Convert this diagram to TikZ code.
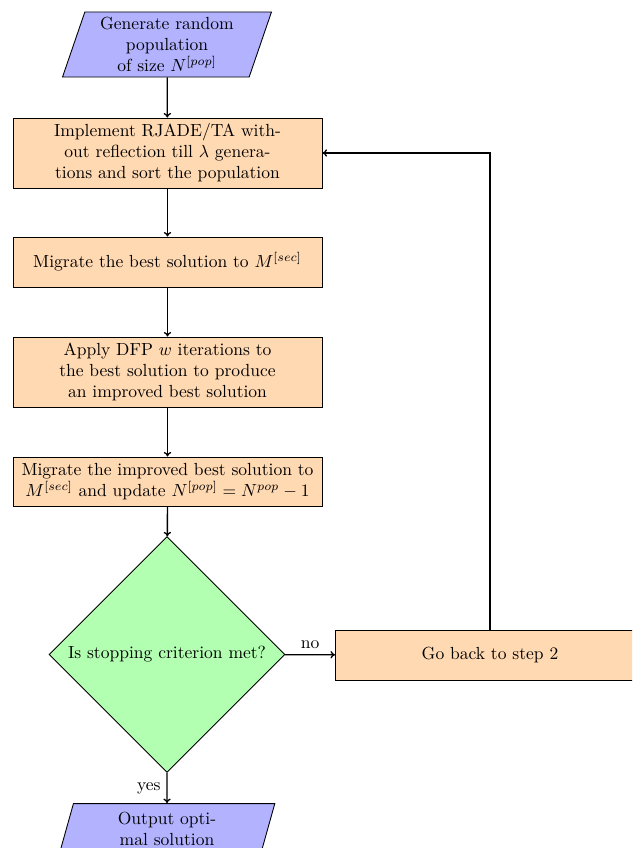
\documentclass[tikz,border=0pt]{standalone}
\usetikzlibrary{shapes.geometric,arrows.meta}
\tikzset{
  procbox/.style={draw, fill=orange!30, line width=0.5pt, minimum width=176.3pt, align=center, inner sep=2pt},
  iobox/.style={draw, fill=blue!30, line width=0.5pt, trapezium, trapezium left angle=69, trapezium right angle=111, trapezium stretches body, align=center, inner sep=1pt},
  decbox/.style={draw, fill=green!30, line width=0.5pt, diamond, aspect=1, minimum width=134.6pt, minimum height=134.6pt, inner sep=0pt, align=center},
  flow/.style={-{To[length=2.6pt,width=4.2pt]}, line width=0.75pt}
}
\begin{document}
\begin{tikzpicture}[x=0.5705pt,y=-0.5705pt]
\useasboundingbox (0,0) rectangle (632,848);
\clip (0,0) rectangle (632,848);
\node[iobox, minimum width=119.2pt, minimum height=37.1pt] (start) at (167,44.5) {Generate random\\population\\of size $N^{[pop]}$};
\node[procbox, minimum height=39.9pt] (s1) at (167.5,153) {Implement RJADE/TA with-\\out reflection till $\lambda$ genera-\\tions and sort the population};
\node[procbox, minimum height=28.5pt] (s2) at (167.5,262) {Migrate the best solution to $M^{[sec]}$};
\node[procbox, minimum height=39.9pt] (s3) at (167.5,372) {Apply DFP $w$ iterations to\\the best solution to produce\\an improved best solution};
\node[procbox, minimum height=28pt] (s4) at (167.5,481.5) {Migrate the improved best solution to\\$M^{[sec]}$ and update $N^{[pop]}=N^{pop}-1$};
\node[decbox] (dec) at (167,654.5) {Is stopping criterion met?};
\node[procbox, minimum height=28.5pt] (back) at (490,655) {Go back to step 2};
\node[iobox, minimum width=123pt, minimum height=29pt] (out) at (167,829) {Output opti-\\mal solution};
\draw[flow] (start) -- (s1);
\draw[flow] (s1) -- (s2);
\draw[flow] (s2) -- (s3);
\draw[flow] (s3) -- (s4);
\draw[flow] (s4) -- (dec);
\draw[flow] (dec) -- node[above] {no} (back);
\draw[flow] (dec) -- node[left] {yes} (out);
\draw[flow] (back.north) |- (s1.east);
\end{tikzpicture}
\end{document}
